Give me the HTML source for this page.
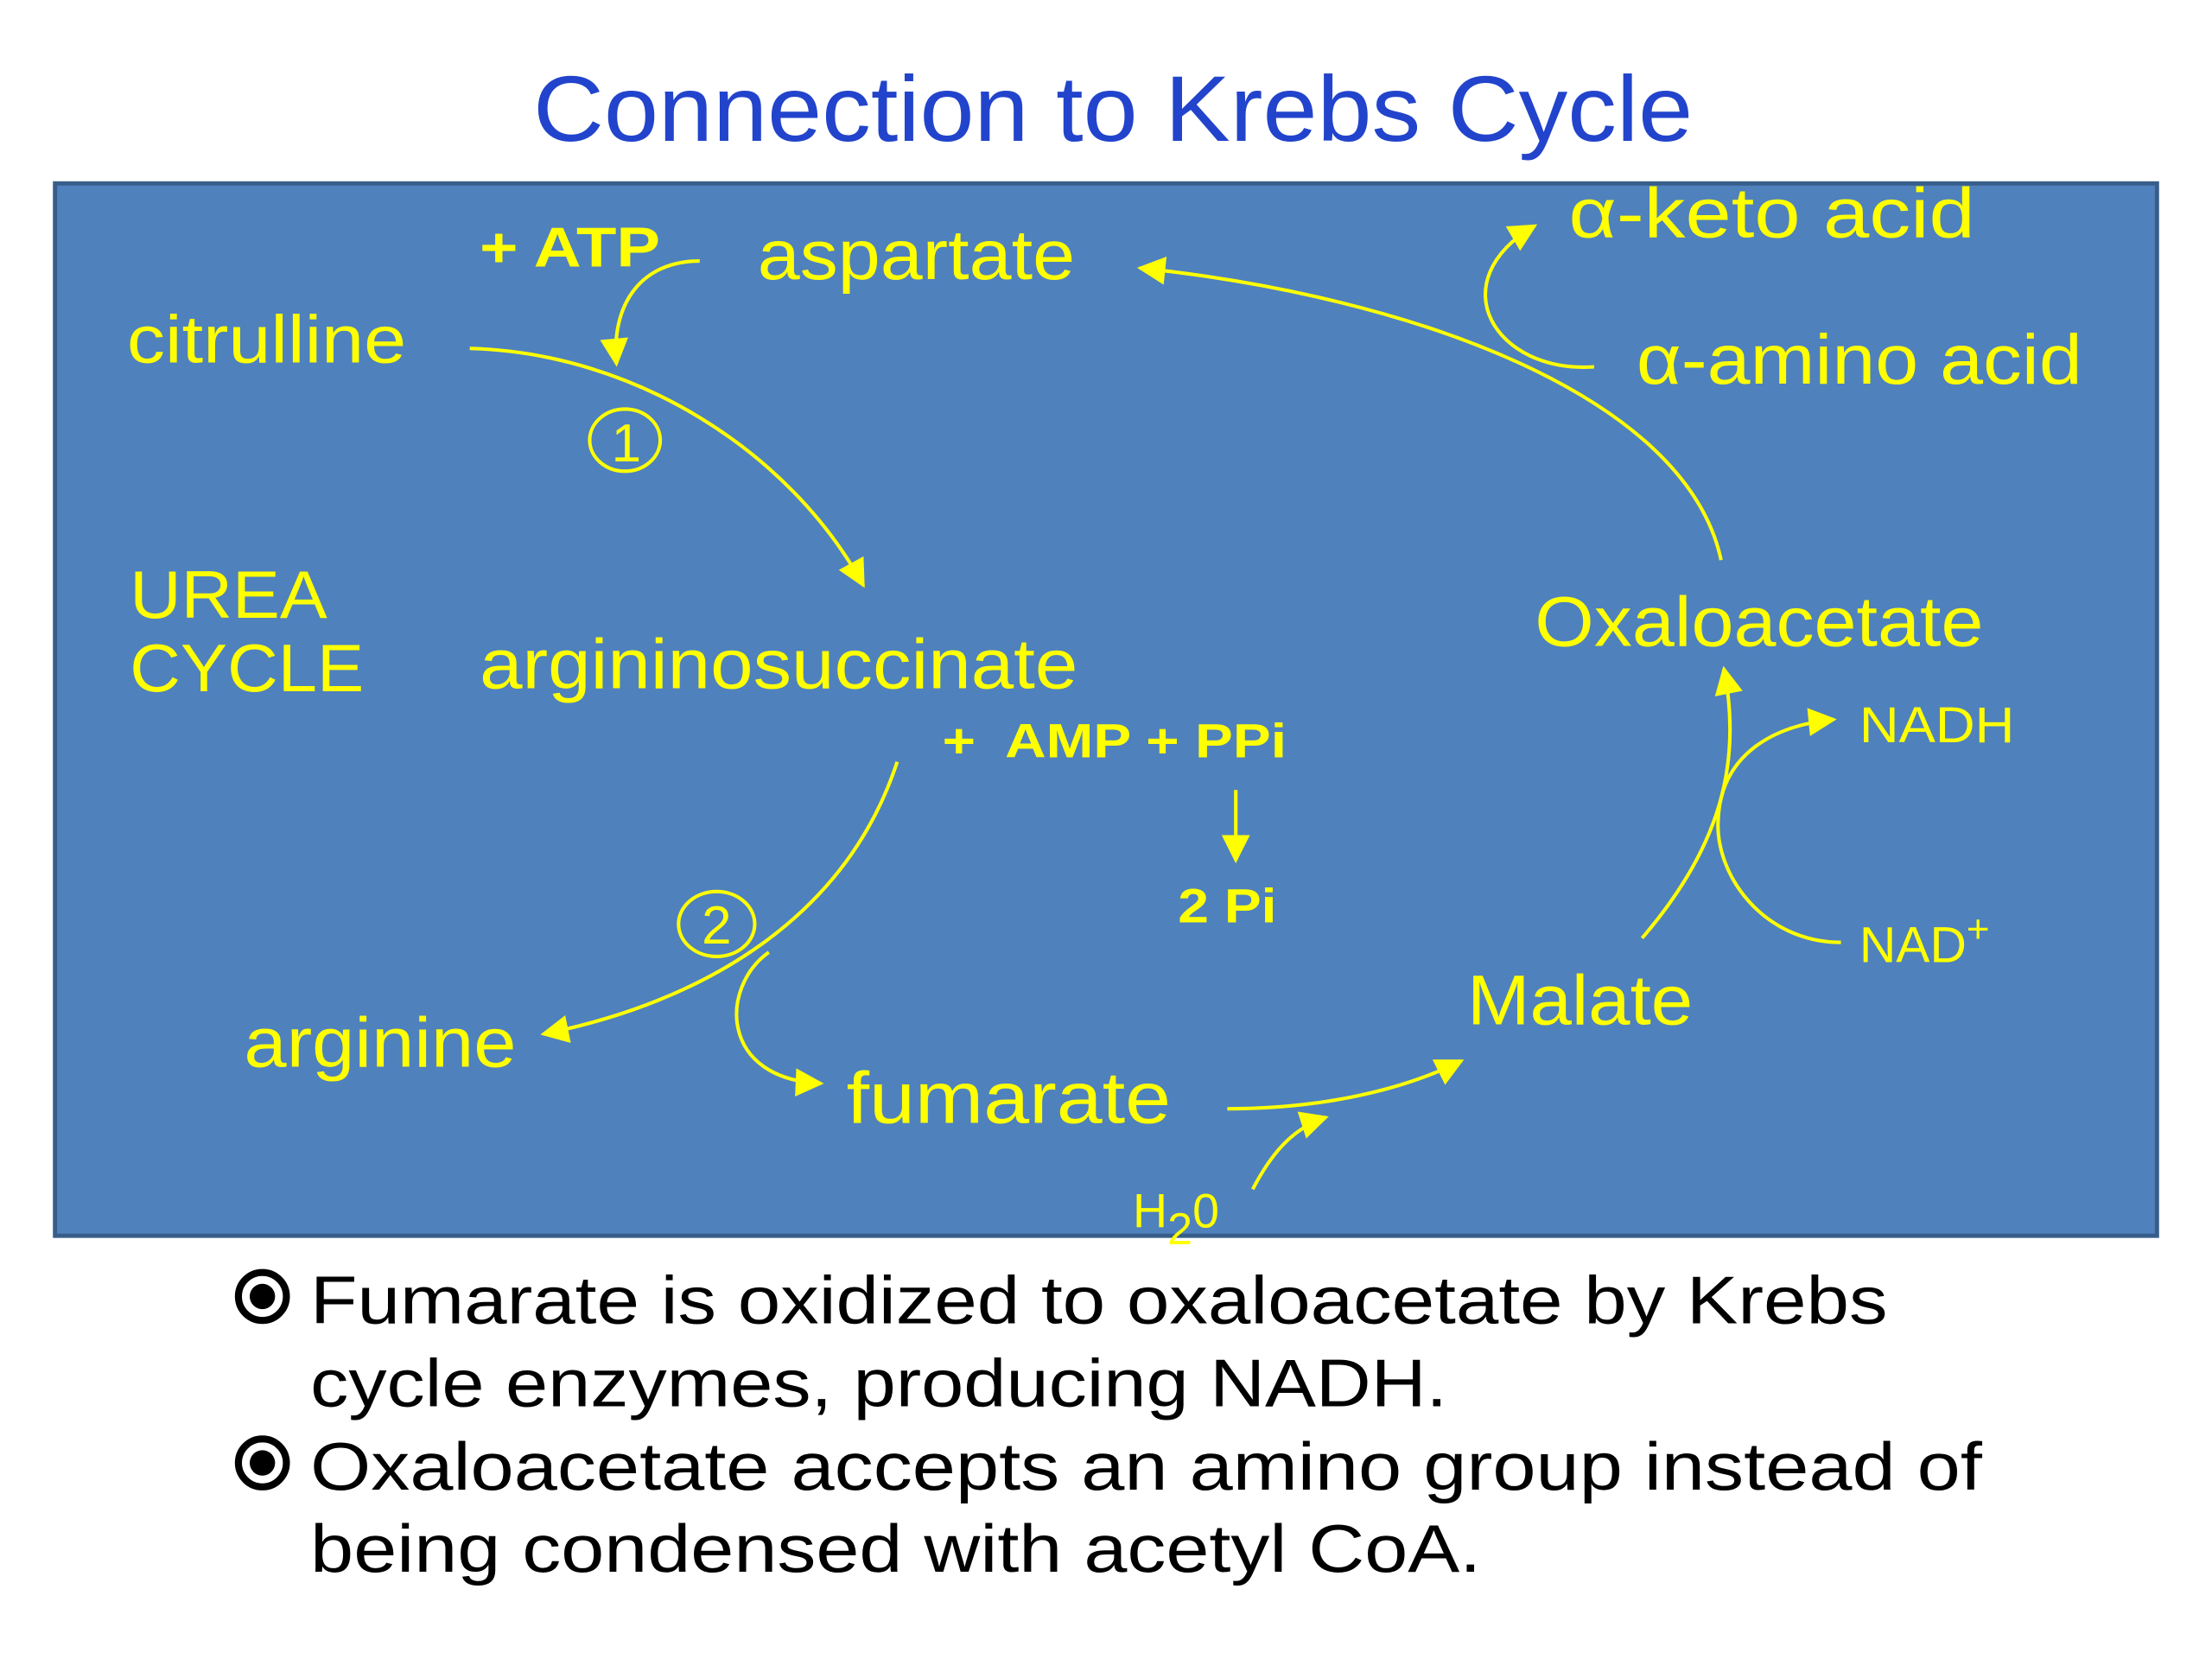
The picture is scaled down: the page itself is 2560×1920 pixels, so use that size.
<!DOCTYPE html>
<html><head><meta charset="utf-8"><style>
html,body{margin:0;padding:0;background:#fff;}
svg{display:block;}
</style></head><body>
<svg width="2560" height="1920" viewBox="0 0 1568 1176" xmlns="http://www.w3.org/2000/svg">
<defs>
<marker id="a" viewBox="0 0 10 10" refX="9" refY="5" markerUnits="userSpaceOnUse" markerWidth="22" markerHeight="20" orient="auto">
<path d="M0,0 L10,5 L0,10 z" fill="#ffff00"/>
</marker>
</defs>
<rect width="1568" height="1176" fill="#fff"/>
<text x="789" y="100" text-anchor="middle" font-family="Liberation Sans, sans-serif" font-size="66" fill="#2244cc" textLength="822" lengthAdjust="spacingAndGlyphs">Connection to Krebs Cycle</text>
<rect x="39" y="130" width="1490" height="746" fill="#4f81bd" stroke="#385d8a" stroke-width="3"/>
<g font-family="Liberation Sans, sans-serif" fill="#ffff00">
<text x="340" y="189" font-size="40" font-weight="bold" textLength="128" lengthAdjust="spacingAndGlyphs">+ ATP</text>
<text x="537" y="198" font-size="50" textLength="225" lengthAdjust="spacingAndGlyphs">aspartate</text>
<text x="90" y="257" font-size="48" textLength="198" lengthAdjust="spacingAndGlyphs">citrulline</text>
<text x="1112" y="168" font-size="50" textLength="288" lengthAdjust="spacingAndGlyphs">α-keto acid</text>
<text x="1160" y="272" font-size="50" textLength="316" lengthAdjust="spacingAndGlyphs">α-amino acid</text>
<ellipse cx="443" cy="312" rx="25" ry="22" fill="none" stroke="#ffff00" stroke-width="2.5"/>
<text x="444" y="327" font-size="38" text-anchor="middle">1</text>
<text x="92" y="438" font-size="48" textLength="140" lengthAdjust="spacingAndGlyphs">UREA</text>
<text x="92" y="490" font-size="48" textLength="166" lengthAdjust="spacingAndGlyphs">CYCLE</text>
<text x="340" y="488" font-size="50" textLength="424" lengthAdjust="spacingAndGlyphs">argininosuccinate</text>
<text x="1088" y="458" font-size="50" textLength="318" lengthAdjust="spacingAndGlyphs">Oxaloacetate</text>
<text x="668" y="537" font-size="34" font-weight="bold" xml:space="preserve" textLength="244" lengthAdjust="spacingAndGlyphs">+  AMP + PPi</text>
<text x="835" y="654" font-size="34" font-weight="bold" textLength="70" lengthAdjust="spacingAndGlyphs">2 Pi</text>
<text x="1318" y="526" font-size="36" textLength="110" lengthAdjust="spacingAndGlyphs">NADH</text>
<text x="1318" y="682" font-size="36">NAD<tspan font-size="28" dy="-14">+</tspan></text>
<ellipse cx="508" cy="655" rx="27" ry="23" fill="none" stroke="#ffff00" stroke-width="2.5"/>
<text x="508" y="669" font-size="38" text-anchor="middle">2</text>
<text x="1040" y="726" font-size="50" textLength="160" lengthAdjust="spacingAndGlyphs">Malate</text>
<text x="173" y="756" font-size="50" textLength="193" lengthAdjust="spacingAndGlyphs">arginine</text>
<text x="600" y="796" font-size="52" textLength="230" lengthAdjust="spacingAndGlyphs">fumarate</text>
<text x="803" y="870" font-size="34">H<tspan font-size="32" dy="12">2</tspan><tspan dy="-12">0</tspan></text>
</g>
<g fill="none" stroke="#ffff00" stroke-width="2.5">
<path d="M333,247 C450,250 560,320 612,415" marker-end="url(#a)"/>
<path d="M496,185 C455,185 433,215 437,258" marker-end="url(#a)"/>
<path d="M1220,397 C1195,280 1000,210 808,190" marker-end="url(#a)"/>
<path d="M1130,260 C1060,265 1020,200 1088,160" marker-end="url(#a)"/>
<path d="M636,540 C600,650 500,710 385,733" marker-end="url(#a)"/>
<path d="M545,675 C510,700 510,765 582,768" marker-end="url(#a)"/>
<path d="M876,560 L876,610" marker-end="url(#a)"/>
<path d="M870,786 C930,786 990,775 1036,752" marker-end="url(#a)"/>
<path d="M888,843 C900,820 915,800 940,792" marker-end="url(#a)"/>
<path d="M1164,665 C1220,600 1235,540 1222,474" marker-end="url(#a)"/>
<path d="M1305,668 C1250,668 1215,620 1218,580 C1220,540 1250,515 1300,510" marker-end="url(#a)"/>
</g>
<g font-family="Liberation Sans, sans-serif" fill="#000" font-size="48">
<circle cx="186" cy="919" r="17" fill="none" stroke="#000" stroke-width="5"/>
<circle cx="186" cy="919" r="9" fill="#000"/>
<circle cx="186" cy="1037" r="17" fill="none" stroke="#000" stroke-width="5"/>
<circle cx="186" cy="1037" r="9" fill="#000"/>
<text x="220" y="938" textLength="1118" lengthAdjust="spacingAndGlyphs">Fumarate is oxidized to oxaloacetate by Krebs</text>
<text x="220" y="997" textLength="806" lengthAdjust="spacingAndGlyphs">cycle enzymes, producing NADH.</text>
<text x="220" y="1056" textLength="1185" lengthAdjust="spacingAndGlyphs">Oxaloacetate accepts an amino group instead of</text>
<text x="220" y="1114" textLength="830" lengthAdjust="spacingAndGlyphs">being condensed with acetyl CoA.</text>
</g>
</svg>
</body></html>
